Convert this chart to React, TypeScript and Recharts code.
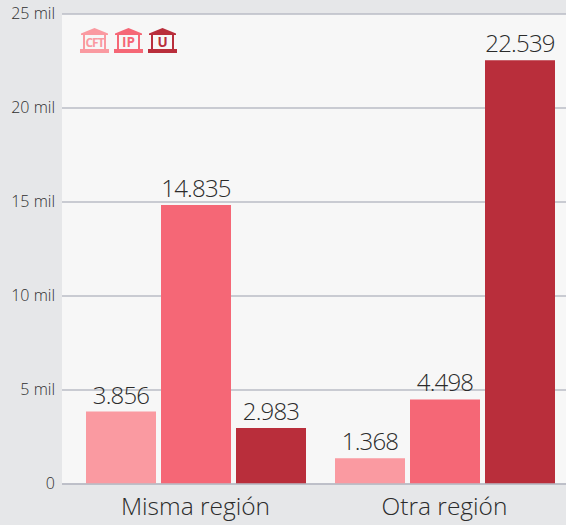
import { Bar, BarChart, CartesianGrid, LabelList, XAxis, YAxis } from "recharts";

const regions = ["Misma región", "Otra región"];
const cftValues = [3856, 1368];
const ipValues = [14835, 4498];
const uValues = [2983, 22539];
const yTicks = [0, 5000, 10000, 15000, 20000, 25000];

const data = regions.map((name, i) => ({
  name,
  cft: cftValues[i],
  ip: ipValues[i],
  u: uValues[i],
}));

const series = [
  { key: "cft", label: "CFT", color: "#fa9aa1" },
  { key: "ip", label: "IP", color: "#f56776" },
  { key: "u", label: "U", color: "#b92e3b" },
];

const FONT = "'Open Sans', sans-serif";

const formatY = (v: number) => (v === 0 ? "0" : `${v / 1000} mil`);
const formatValue = (v: number) => {
  const s = String(v);
  return s.length > 3 ? `${s.slice(0, -3)}.${s.slice(-3)}` : s;
};

function InstitutionIcon({ label, color }: { label: string; color: string }) {
  return (
    <svg width={29} height={25} viewBox="0 0 29 25" style={{ display: "block" }}>
      <path d="M14.5 0 L28 5.5 L28 7 L1 7 L1 5.5 Z" fill={color} />
      <rect x={3} y={7} width={2} height={14} fill={color} />
      <rect x={24} y={7} width={2} height={14} fill={color} />
      <rect x={0} y={21} width={29} height={4} fill={color} />
      <text
        x={14.5}
        y={19}
        textAnchor="middle"
        fontFamily={FONT}
        fontWeight={700}
        fontSize={label.length > 2 ? 12 : 13.5}
        letterSpacing={label.length > 2 ? -1 : 0}
        fill={color}
      >
        {label}
      </text>
    </svg>
  );
}

export default function App() {
  return (
    <div
      style={{
        position: "absolute",
        left: 0,
        top: 0,
        width: 566,
        height: 525,
        overflow: "hidden",
        background: "#e6e7e9",
      }}
    >
      <BarChart
        width={569}
        height={525}
        data={data}
        margin={{ top: 14, right: 0, left: 0, bottom: 0 }}
        barSize={70}
        barGap={5}
      >
        <CartesianGrid vertical={false} fill="#f7f7f7" stroke="#babcc6" strokeWidth={1.5} />
        <XAxis
          dataKey="name"
          height={41}
          padding={{ left: 9, right: 0 }}
          axisLine={{ stroke: "#babcc6", strokeWidth: 1.5 }}
          tickLine={false}
          tick={{ fontFamily: FONT, fontWeight: 300, fontSize: 24.5, fill: "#2b2b2b" }}
          tickMargin={8}
        />
        <YAxis
          width={62}
          domain={[0, 25000]}
          ticks={yTicks}
          tickFormatter={formatY}
          axisLine={false}
          tickLine={false}
          tickSize={0}
          tickMargin={7}
          tick={{ fontFamily: FONT, fontWeight: 300, fontSize: 16, fill: "#2f2f2f", dy: -1 }}
        />
        {series.map((s) => (
          <Bar key={s.key} dataKey={s.key} fill={s.color} isAnimationActive={false}>
            <LabelList
              dataKey={s.key}
              position="top"
              offset={8}
              fill="#2b2b2b"
              formatter={formatValue}
              style={{ fontFamily: FONT, fontWeight: 300, fontSize: 24, letterSpacing: -0.8, fill: "#2b2b2b" }}
            />
          </Bar>
        ))}
      </BarChart>
      <div style={{ position: "absolute", left: 80, top: 28, display: "flex", gap: 5 }}>
        {series.map((s) => (
          <InstitutionIcon key={s.key} label={s.label} color={s.color} />
        ))}
      </div>
    </div>
  );
}
